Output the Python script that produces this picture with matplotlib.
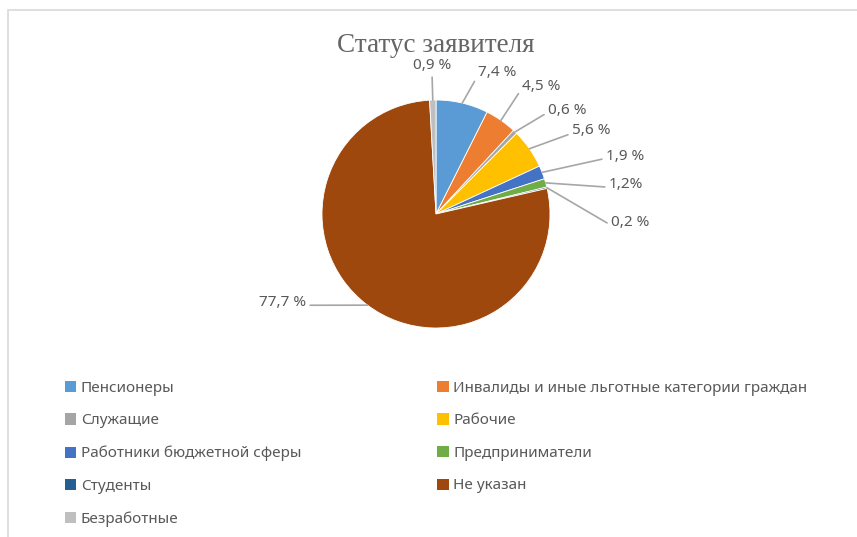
import matplotlib.pyplot as plt
from matplotlib.patches import Patch, Rectangle
import numpy as np

W, H = 857, 537

categories = ["Пенсионеры", "Инвалиды и иные льготные категории граждан",
              "Служащие", "Рабочие", "Работники бюджетной сферы",
              "Предприниматели", "Студенты", "Не указан", "Безработные"]
shares = [7.4, 4.5, 0.6, 5.6, 1.9, 1.2, 0.2, 77.7, 0.9]
labels = ["7,4 %", "4,5 %", "0,6 %", "5,6 %", "1,9 %", "1,2%", "0,2 %", "77,7 %", "0,9 %"]
colors = ["#5B9BD5", "#ED7D31", "#A5A5A5", "#FFC000", "#4472C4",
          "#70AD47", "#255E91", "#9E480E", "#BFBFBF"]

# label text anchors in pixel coords (x, y from top), alignment
label_pos = [(478, 73, "left"), (522, 86, "left"), (548, 110, "left"),
             (572, 131, "left"), (606, 156, "left"), (609, 185, "left"),
             (611, 223, "left"), (306, 303, "right"), (432, 73, "center")]

TXT = "#595959"
FONT = "Noto Sans"

fig = plt.figure(figsize=(W / 100, H / 100), dpi=100)
ax = fig.add_axes([0, 0, 1, 1])

cx, cy, r = 436, H - 214, 114
wedges, _ = ax.pie(shares, colors=colors, startangle=90, counterclock=False,
                   center=(cx, cy), radius=r, frame=True,
                   wedgeprops=dict(linewidth=0.6, edgecolor="white"))
ax.set_xlim(0, W)
ax.set_ylim(0, H)
ax.set_aspect("equal")
ax.axis("off")

for w, lab, (tx, ty, ha) in zip(wedges, labels, label_pos):
    ang = np.deg2rad((w.theta1 + w.theta2) / 2)
    ex, ey = cx + r * np.cos(ang), cy + r * np.sin(ang)
    if ha == "center":
        va, rel = "bottom", (0.5, 0.0)
    elif ha == "left":
        va, rel = "center", (0.0, 0.35)
    else:
        va, rel = "center", (1.0, 0.35)
    ax.annotate(lab, xy=(ex, ey), xytext=(tx, H - ty), ha=ha, va=va,
                fontsize=11, color=TXT, family=FONT,
                arrowprops=dict(arrowstyle="-", color="#A6A6A6", lw=1.2,
                                shrinkA=1, shrinkB=0, relpos=rel))

fig.text(436 / W, 1 - 45 / H, "Статус заявителя", ha="center", va="center",
         fontsize=19.5, color="#656565", family="Liberation Serif")

# legend rows read left to right
handles = [Patch(facecolor=c, edgecolor="none") for c in colors]
order = [0, 2, 4, 6, 8, 1, 3, 5, 7]
leg = fig.legend([handles[i] for i in order], [categories[i] for i in order],
                 ncol=2, loc="upper left", bbox_to_anchor=(51 / W, 1 - 367 / H),
                 frameon=False, handlelength=0.75, handleheight=0.75,
                 handletextpad=0.3, labelspacing=1.15, columnspacing=8.9,
                 prop=dict(family=FONT, size=11))
for t in leg.get_texts():
    t.set_color(TXT)

fig.patches.append(Rectangle((8 / W, -0.1), 1.2, 1.1 - 10 / H, transform=fig.transFigure,
                             fill=False, edgecolor="#D9D9D9", lw=1.2))

fig.savefig("out.png", dpi=100, facecolor="white")
